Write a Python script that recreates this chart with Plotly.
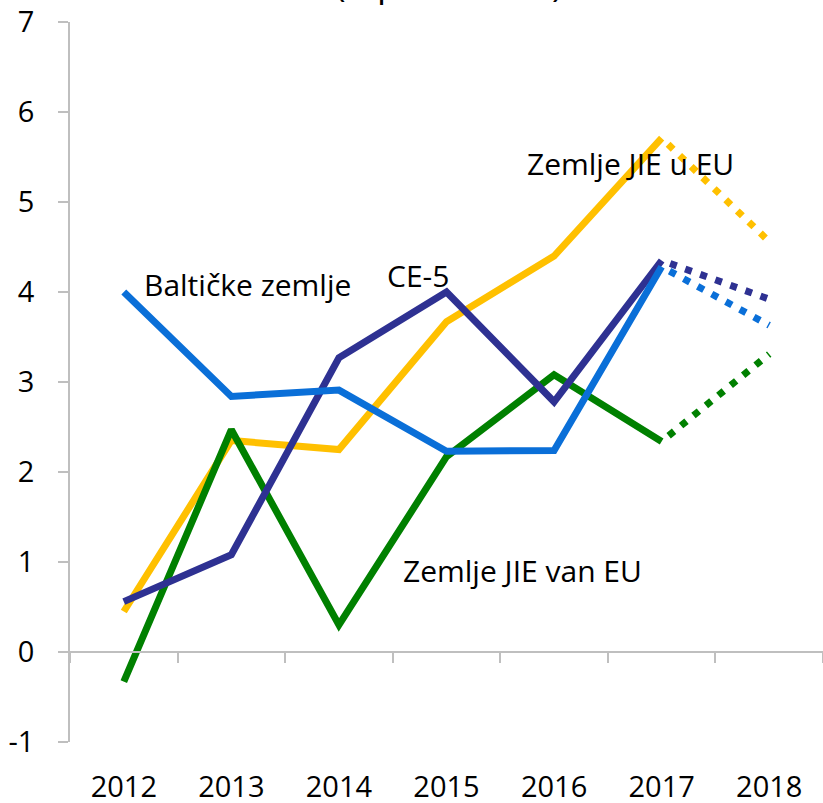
import plotly.graph_objects as go

years = ["2012", "2013", "2014", "2015", "2016", "2017", "2018"]
baltic = [4.00, 2.84, 2.91, 2.23, 2.24, 4.28, 3.63]
ce5 = [0.56, 1.08, 3.27, 4.00, 2.78, 4.35, 3.92]
jie_eu = [0.45, 2.35, 2.25, 3.67, 4.40, 5.71, 4.56]
jie_non_eu = [-0.33, 2.47, 0.30, 2.17, 3.08, 2.34, 3.31]
y_ticks = [-1, 0, 1, 2, 3, 4, 5, 6, 7]
y_tick_labels = ["-1", "0", "1", "2", "3", "4", "5", "6", "7"]

series = [
    ("Zemlje JIE u EU", jie_eu, "#FFC000"),
    ("Zemlje JIE van EU", jie_non_eu, "#008000"),
    ("CE-5", ce5, "#2E3192"),
    ("Baltičke zemlje", baltic, "#0A6FD8"),
]

FONT = "Open Sans"
GRAY = "#BFBFBF"

fig = go.Figure()
for name, vals, col in series:
    fig.add_trace(go.Scatter(x=years[:6], y=vals[:6], mode="lines", name=name,
                             line=dict(color=col, width=7), hoverinfo="skip"))
    fig.add_trace(go.Scatter(x=years[5:], y=vals[5:], mode="lines", name=name + " (projekcija)",
                             line=dict(color=col, width=7, dash="0px,9px,7px,0px"),
                             hoverinfo="skip"))

# helper trace for the zero-line axis with boundary ticks
fig.add_trace(go.Scatter(x=[-0.5, 6.5], y=[0, 0], xaxis="x2", yaxis="y", mode="lines",
                         line=dict(color="rgba(0,0,0,0)", width=0), hoverinfo="skip",
                         showlegend=False))

labels = [
    ("Baltičke zemlje", 142, 284),
    ("CE-5", 385, 275),
    ("Zemlje JIE u EU", 525, 163),
    ("Zemlje JIE van EU", 401, 570),
]
for txt, px, py in labels:
    fig.add_annotation(text=txt, xref="paper", yref="y",
                       x=(px - 70) / 753, y=(652 - py) / 90,
                       xanchor="left", yanchor="middle", showarrow=False,
                       font=dict(family=FONT, size=30, color="#000000"))

fig.add_annotation(text="(u postocima)", xref="paper", yref="paper",
                   x=0.503, y=(742 - 9) / 720, xanchor="center", yanchor="bottom",
                   showarrow=False, font=dict(family=FONT, size=36, color="#000000"))

fig.update_layout(
    width=823, height=803,
    margin=dict(l=70, r=0, t=22, b=61, autoexpand=False),
    paper_bgcolor="white", plot_bgcolor="white",
    showlegend=False,
    font=dict(family=FONT, size=29, color="#000000"),
    xaxis=dict(type="category", categoryarray=years, range=[-0.5, 6.5],
               showline=False, showgrid=False, zeroline=False, automargin=False,
               ticks="outside", ticklen=19, tickcolor="rgba(0,0,0,0)",
               tickfont=dict(family=FONT, size=29, color="#000000")),
    xaxis2=dict(overlaying="x", anchor="free", position=0.125, type="linear",
                range=[-0.5, 6.5], tick0=-0.5, dtick=1, automargin=False,
                ticks="outside", ticklen=10, tickcolor=GRAY, tickwidth=1.5,
                showline=True, linecolor=GRAY, linewidth=1.5,
                showticklabels=False, showgrid=False, zeroline=False),
    yaxis=dict(range=[-1, 7], tickvals=y_ticks, ticktext=y_tick_labels,
               automargin=False,
               ticks="outside", ticklen=10, tickcolor=GRAY, tickwidth=1.5,
               showline=True, linecolor=GRAY, linewidth=1.5,
               showgrid=False, zeroline=False, ticklabelstandoff=18,
               tickfont=dict(family=FONT, size=29, color="#000000")),
)

fig.write_html("out.html", config={"displayModeBar": False},
               post_script="document.body.style.margin='0px';document.body.style.overflow='hidden';")
